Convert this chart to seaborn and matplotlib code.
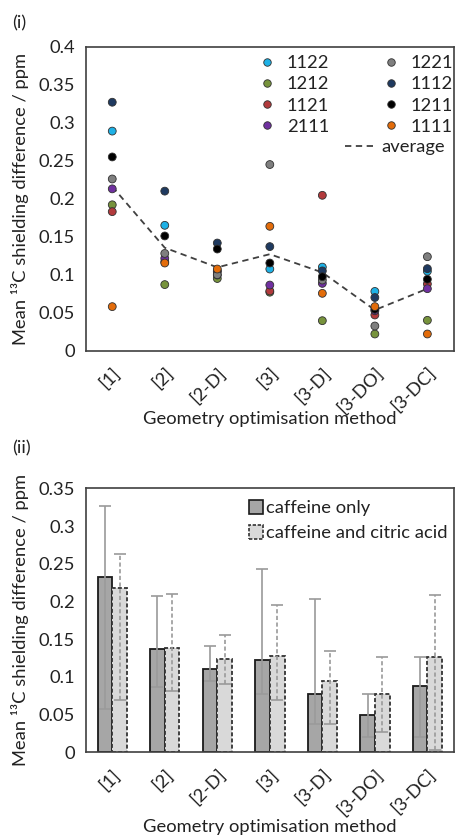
"""Mean 13C shielding differences by geometry optimisation method."""

import matplotlib

matplotlib.use("Agg")
import matplotlib.pyplot as plt
from matplotlib.lines import Line2D
from matplotlib.patches import Patch
import pandas as pd
import seaborn as sns

methods = ["[1]", "[2]", "[2-D]", "[3]", "[3-D]", "[3-DO]", "[3-DC]"]

# panel (i): one value per method for every structure (ppm)
s1122 = [0.289, 0.165, 0.105, 0.1075, 0.110, 0.078, 0.1045]
s1212 = [0.192, 0.087, 0.095, 0.077, 0.0395, 0.022, 0.040]
s1121 = [0.183, 0.117, 0.104, 0.0786, 0.2045, 0.047, 0.0878]
s2111 = [0.213, 0.1215, 0.0996, 0.0864, 0.0886, 0.0526, 0.0816]
s1221 = [0.226, 0.128, 0.100, 0.245, 0.093, 0.0325, 0.1237]
s1112 = [0.327, 0.210, 0.1417, 0.137, 0.105, 0.070, 0.108]
s1211 = [0.255, 0.151, 0.1338, 0.1154, 0.0974, 0.0545, 0.094]
s1111 = [0.058, 0.1154, 0.1075, 0.1637, 0.0755, 0.058, 0.022]
average = [0.216, 0.1355, 0.1097, 0.127, 0.103, 0.0535, 0.0816]

# panel (ii): bar heights with min/max ranges
caff_mean = [0.233, 0.137, 0.110, 0.122, 0.077, 0.0495, 0.088]
caff_lo = [0.057, 0.087, 0.095, 0.077, 0.0375, 0.020, 0.021]
caff_hi = [0.327, 0.208, 0.141, 0.243, 0.203, 0.077, 0.126]
citric_mean = [0.2175, 0.138, 0.124, 0.128, 0.0945, 0.077, 0.1268]
citric_lo = [0.069, 0.081, 0.0905, 0.070, 0.0375, 0.027, 0.003]
citric_hi = [0.263, 0.210, 0.156, 0.195, 0.135, 0.126, 0.2085]

y1_ticks = [0, 0.05, 0.1, 0.15, 0.2, 0.25, 0.3, 0.35, 0.4]
y1_labels = ["0", "0.05", "0.1", "0.15", "0.2", "0.25", "0.3", "0.35", "0.4"]
y2_ticks = y1_ticks[:-1]
y2_labels = y1_labels[:-1]

structures = {
    "1122": s1122, "1212": s1212, "1121": s1121, "2111": s2111,
    "1221": s1221, "1112": s1112, "1211": s1211, "1111": s1111,
}
palette = {
    "1122": "#1eb1e6", "1212": "#77933c", "1121": "#b23a3c", "2111": "#7030a0",
    "1221": "#7f7f7f", "1112": "#1f3a60", "1211": "#000000", "1111": "#e36c0a",
}
bar_colors = {"caffeine only": "#a6a6a6", "caffeine and citric acid": "#d9d9d9"}

FONT = "Lato"
FS = 13.2
SPINE = "#404040"
YLABEL = "Mean \u00b9\u00b3C shielding difference / ppm"


def _style_axes(ax, ticks, labels, ymax):
    ax.set_xlim(-0.5, 6.5)
    ax.set_ylim(0, ymax)
    ax.set_yticks(ticks)
    ax.set_yticklabels(labels, fontsize=FS)
    ax.set_xticks(range(len(methods)))
    ax.set_xticklabels(methods, fontsize=FS, rotation=45, ha="right", rotation_mode="anchor")
    ax.set_xticks([i + 0.5 for i in range(-1, len(methods))], minor=True)
    ax.tick_params(axis="x", which="major", length=0, pad=10)
    ax.tick_params(axis="x", which="minor", length=5, width=1.1, color=SPINE)
    ax.tick_params(axis="y", length=5, width=1.1, color=SPINE, pad=3)
    ax.set_xlabel("")
    ax.set_ylabel("")
    for sp in ax.spines.values():
        sp.set_color(SPINE)
        sp.set_linewidth(1.2)
    ax.grid(False)


def main() -> None:
    sns.set_theme(style="white")
    plt.rcParams["font.family"] = [FONT, "DejaVu Sans"]
    plt.rcParams["text.color"] = "#222222"
    plt.rcParams["xtick.color"] = "#222222"
    plt.rcParams["ytick.color"] = "#222222"

    fig = plt.figure(figsize=(4.55, 8.35), dpi=100)
    ax1 = fig.add_axes([0.189, 0.580, 0.808, 0.364])
    ax2 = fig.add_axes([0.189, 0.099, 0.808, 0.316])

    # ---- panel (i)
    rows = []
    for name, vals in structures.items():
        for m, v in zip(methods, vals):
            rows.append({"method": m, "value": v, "structure": name})
    pts = pd.DataFrame(rows)

    sns.lineplot(x=methods, y=average, ax=ax1, color="#404040", linestyle=(0, (3.5, 2.5)),
                 linewidth=1.3, zorder=2)
    sns.scatterplot(data=pts, x="method", y="value", hue="structure", palette=palette,
                    s=32, edgecolor="#303030", linewidth=0.6, legend=False, ax=ax1, zorder=3)
    _style_axes(ax1, y1_ticks, y1_labels, 0.4)

    def mk(name):
        return Line2D([], [], marker="o", linestyle="", markersize=5.4,
                      markerfacecolor=palette[name], markeredgecolor="#303030",
                      markeredgewidth=0.6)

    leg_kw = dict(frameon=False, fontsize=FS, borderpad=0, borderaxespad=0,
                  labelspacing=0.28, loc="upper left")
    col1 = ["1122", "1212", "1121", "2111"]
    col2 = ["1221", "1112", "1211", "1111"]
    leg1 = ax1.legend([mk(n) for n in col1], col1, handlelength=1.0, handletextpad=0.6,
                      bbox_to_anchor=(0.467, 0.972), **leg_kw)
    ax1.add_artist(leg1)
    leg2 = ax1.legend([mk(n) for n in col2], col2, handlelength=1.0, handletextpad=0.6,
                      bbox_to_anchor=(0.804, 0.972), **leg_kw)
    ax1.add_artist(leg2)
    avg_h = Line2D([], [], color="#404040", linestyle=(0, (3.5, 2.5)), linewidth=1.3)
    ax1.legend([avg_h], ["average"], handlelength=1.6, handletextpad=0.35,
               bbox_to_anchor=(0.705, 0.695), **leg_kw)

    # ---- panel (ii)
    groups = list(bar_colors)
    brow = []
    for m, v in zip(methods, caff_mean):
        brow.append({"method": m, "value": v, "group": groups[0]})
    for m, v in zip(methods, citric_mean):
        brow.append({"method": m, "value": v, "group": groups[1]})
    bars = pd.DataFrame(brow)

    sns.barplot(data=bars, x="method", y="value", hue="group", order=methods,
                hue_order=groups, palette=bar_colors, width=0.56, errorbar=None,
                legend=False, ax=ax2, zorder=2)

    patches = ax2.patches
    n = len(methods)
    ranges = [(caff_mean, caff_lo, caff_hi, "-"), (citric_mean, citric_lo, citric_hi, "--")]
    for k, (mean, lo, hi, ls) in enumerate(ranges):
        for i in range(n):
            p = patches[k * n + i]
            p.set_edgecolor("#1a1a1a" if k == 0 else "#333333")
            p.set_linewidth(1.3)
            p.set_linestyle("-" if k == 0 else (0, (2.2, 1.2)))
            xc = p.get_x() + p.get_width() / 2
            eb = ax2.errorbar(xc, mean[i], yerr=[[mean[i] - lo[i]], [hi[i] - mean[i]]],
                              fmt="none", ecolor="#9a9a9a", elinewidth=1.2, capsize=4,
                              capthick=1.2, zorder=4)
            if ls == "--":
                eb[2][0].set_linestyle((0, (2.5, 1.5)))

    _style_axes(ax2, y2_ticks, y2_labels, 0.35)

    h_caff = Patch(facecolor=bar_colors[groups[0]], edgecolor="#1a1a1a", linewidth=1.2)
    h_cit = Patch(facecolor=bar_colors[groups[1]], edgecolor="#333333", linewidth=1.2,
                  linestyle=(0, (2, 1)))
    ax2.legend([h_caff, h_cit], groups, frameon=False, fontsize=FS, borderpad=0,
               borderaxespad=0, labelspacing=0.5, handletextpad=0.2, handlelength=0.75,
               handleheight=0.75, loc="upper left", bbox_to_anchor=(0.443, 0.956))

    # ---- panel labels and axis titles
    fig.text(0.027, 1 - 23 / 835, "(i)", fontsize=FS, va="center")
    fig.text(0.027, 1 - 448 / 835, "(ii)", fontsize=FS, va="center")
    fig.text(0.593, 1 - 419 / 835, "Geometry optimisation method", fontsize=FS,
             ha="center", va="center")
    fig.text(0.593, 1 - 827 / 835, "Geometry optimisation method", fontsize=FS,
             ha="center", va="center")
    fig.text(0.045, 1 - 199 / 835, YLABEL, fontsize=FS, rotation=90, ha="center", va="center")
    fig.text(0.045, 1 - 620 / 835, YLABEL, fontsize=FS, rotation=90, ha="center", va="center")

    fig.savefig("out.png", dpi=100)
    plt.close(fig)


if __name__ == "__main__":
    main()
